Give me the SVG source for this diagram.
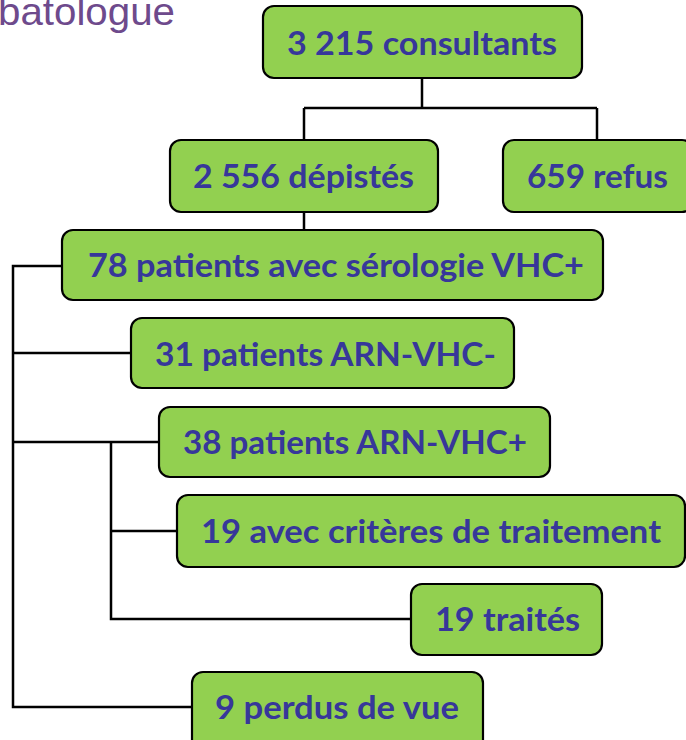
<svg xmlns="http://www.w3.org/2000/svg" width="686" height="740" viewBox="0 0 686 740">
<style>
.box{fill:#92d050;stroke:#000;stroke-width:2.2}
.lbl{font-family:Lato,"Open Sans","Liberation Sans",sans-serif;font-weight:bold;font-size:32px;fill:#37379a}
.ln{fill:none;stroke:#000;stroke-width:2.5}
.title{font-family:"Liberation Sans",Arial,sans-serif;font-size:39px;fill:#6e4a8c}
</style>
<text class="title" x="-2" y="25" textLength="177" lengthAdjust="spacingAndGlyphs">batologue</text>
<g id="connectors">
<path class="ln" d="M422 78 V108 M304 108 H597 M304 108 V140 M597 108 V140 M304 212 V230"/>
<path class="ln" d="M62 266 H13 V707 H192 M13 353 H131 M13 442 H159 M111 442 V619 H411 M111 531 H177"/>
</g>
<g id="n1"><rect class="box" x="263" y="6" width="319" height="72" rx="11"/><text class="lbl" x="287" y="55" textLength="270" lengthAdjust="spacingAndGlyphs">3 215 consultants</text></g>
<g id="n2"><rect class="box" x="170" y="140" width="268" height="72" rx="11"/><text class="lbl" x="193" y="188" textLength="221" lengthAdjust="spacingAndGlyphs">2 556 dépistés</text></g>
<g id="n3"><rect class="box" x="503" y="140" width="190" height="72" rx="11"/><text class="lbl" x="527" y="188" textLength="141" lengthAdjust="spacingAndGlyphs">659 refus</text></g>
<g id="n4"><rect class="box" x="62" y="230" width="541" height="70" rx="11"/><text class="lbl" x="88" y="277" textLength="496" lengthAdjust="spacingAndGlyphs">78 patients avec sérologie VHC+</text></g>
<g id="n5"><rect class="box" x="131" y="318" width="383" height="70" rx="11"/><text class="lbl" x="155" y="366" textLength="341" lengthAdjust="spacingAndGlyphs">31 patients ARN-VHC-</text></g>
<g id="n6"><rect class="box" x="159" y="407" width="391" height="70" rx="11"/><text class="lbl" x="183" y="454" textLength="344" lengthAdjust="spacingAndGlyphs">38 patients ARN-VHC+</text></g>
<g id="n7"><rect class="box" x="177" y="495" width="508" height="72" rx="11"/><text class="lbl" x="201" y="543" textLength="460" lengthAdjust="spacingAndGlyphs">19 avec critères de traitement</text></g>
<g id="n8"><rect class="box" x="411" y="584" width="191" height="71" rx="11"/><text class="lbl" x="435" y="631" textLength="145" lengthAdjust="spacingAndGlyphs">19 traités</text></g>
<g id="n9"><rect class="box" x="192" y="672" width="291" height="80" rx="11"/><text class="lbl" x="215" y="719" textLength="244" lengthAdjust="spacingAndGlyphs">9 perdus de vue</text></g>
</svg>
